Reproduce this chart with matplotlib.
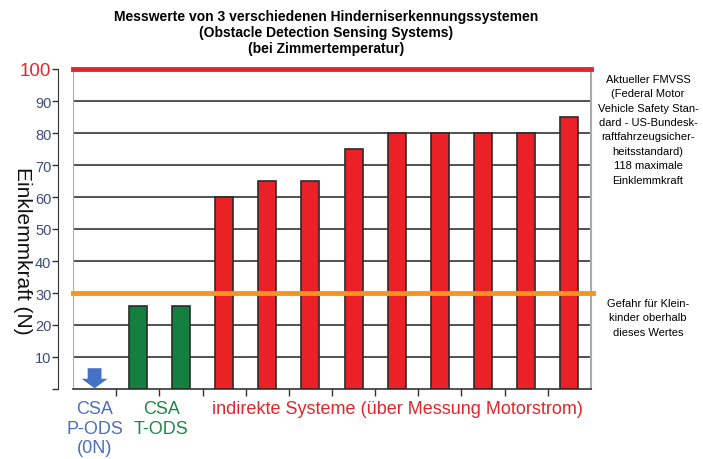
import numpy as np
import matplotlib.pyplot as plt

plt.rcParams['font.family'] = ['Liberation Sans', 'DejaVu Sans']

# data
values = [0, 26, 26, 60, 65, 65, 75, 80, 80, 80, 80, 85]
colors = ['none', '#13803f', '#13803f'] + ['#ec2027'] * 9
yticks = [10, 20, 30, 40, 50, 60, 70, 80, 90, 100]
fmvss_limit = 100
child_limit = 30

fig = plt.figure(figsize=(7.03, 4.6), dpi=100)
ax = fig.add_axes([73/703, 70/460, 518/703, 320/460])

x = np.arange(len(values))
ax.set_xlim(-0.5, len(values) - 0.5)
ax.set_ylim(0, 100)

# grid lines
for t in yticks[:-1]:
    if t != child_limit:
        ax.axhline(t, color='#333333', lw=1.2, zorder=1)

ax.bar(x[1:], values[1:], width=0.42, color=colors[1:], edgecolor='#2b2b2b',
       linewidth=1.2, zorder=3)

# limits
ax.axhline(fmvss_limit, color='#e3262b', lw=3.5, zorder=4, clip_on=False)
ax.plot([-0.5, len(values) - 0.45], [child_limit, child_limit], color='#f7941d',
        lw=3.5, zorder=4, clip_on=False)

# arrow for P-ODS (0 N)
ax.arrow(0, 6.5, 0, -6.3, width=0.32, head_width=0.6, head_length=3,
         length_includes_head=True, color='#4472c4', lw=0, zorder=5)

# axes styling
ax.spines['top'].set_visible(False)
ax.spines['right'].set_color('#aaaaaa')
ax.spines['right'].set_linewidth(1.5)
ax.spines['bottom'].set_color('#333333')
ax.spines['bottom'].set_linewidth(1.2)
ax.spines['left'].set_position(('outward', 11))
ax.spines['left'].set_color('#333333')
ax.axvline(-0.5, color='#aaaaaa', lw=1.5, zorder=2)

ax.set_yticks([0] + yticks)
ax.set_yticklabels([''] + [str(t) for t in yticks])
ax.tick_params(axis='y', length=4, width=1, color='#333333', labelsize=10.5,
               labelcolor='#3b4c7a', pad=0.5)
lab100 = ax.get_yticklabels()[-1]
lab100.set_color('#e3262b')
lab100.set_fontsize(13.5)

ax.set_xticks(np.arange(0.5, len(values) - 1, 1))
ax.set_xticklabels([])
ax.tick_params(axis='x', length=5, width=1, color='#333333')

fig.text(22/703, 1 - 251/460, 'Einklemmkraft (N)', fontsize=15, rotation=270,
         ha='center', va='center', color='#111111')

# category labels
ax.text(0, -3.5, 'CSA\nP-ODS\n(0N)', color='#4a6fc1', fontsize=13, ha='center', va='top',
        linespacing=1.2)
ax.text(1.55, -3.5, 'CSA\nT-ODS', color='#1a8a45', fontsize=13, ha='center', va='top',
        linespacing=1.2)
ax.text(7.02, -3.5, 'indirekte Systeme (über Messung Motorstrom)', color='#e3262b',
        fontsize=13, ha='center', va='top')

# side notes
ax.text(1.11, 0.985, 'Aktueller FMVSS\n(Federal Motor\nVehicle Safety Stan-\n'
        'dard - US-Bundesk-\nraftfahrzeugsicher-\nheitsstandard)\n118 maximale\nEinklemmkraft',
        transform=ax.transAxes, fontsize=8, ha='center', va='top', linespacing=1.55)
ax.text(1.11, 0.285, 'Gefahr für Klein-\nkinder oberhalb\ndieses Wertes',
        transform=ax.transAxes, fontsize=8, ha='center', va='top', linespacing=1.55)

fig.text(326/703, 1 - 10/460, 'Messwerte von 3 verschiedenen Hinderniserkennungssystemen\n'
         '(Obstacle Detection Sensing Systems)\n(bei Zimmertemperatur)',
         fontsize=10, fontweight='bold', ha='center', va='top', linespacing=1.2)

fig.savefig('out.png', dpi=100)
